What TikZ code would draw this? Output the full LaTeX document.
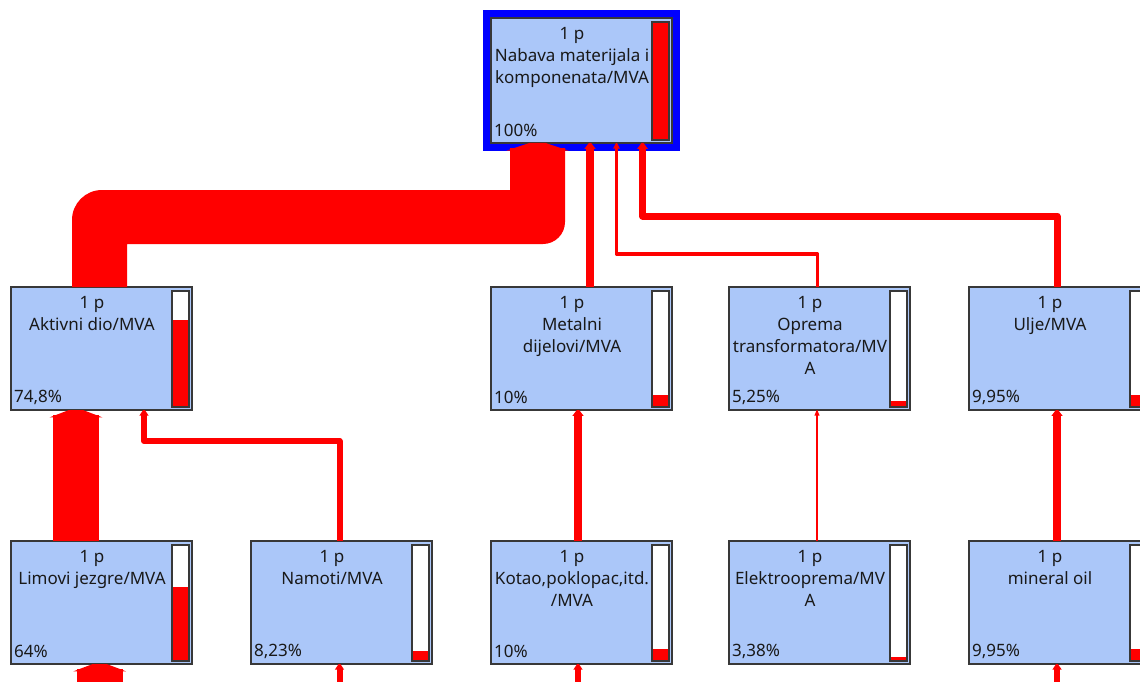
\documentclass[tikz,border=0pt]{standalone}
\usepackage{fontspec}
\setmainfont{Noto Sans}
\usetikzlibrary{calc}
\definecolor{boxblue}{HTML}{ABC7F9}
\definecolor{boxedge}{HTML}{383838}
\tikzset{
  taskbox/.style={draw=boxedge,line width=1.5pt,fill=boxblue,anchor=north west,minimum width=181pt,minimum height=\boxh pt,inner sep=0pt,outer sep=0pt},
  selbox/.style={draw=none,fill=blue,anchor=north west,minimum width=197pt,minimum height=141pt,inner sep=0pt,outer sep=0pt},
  tasklabel/.style={anchor=north,align=center,inner sep=0pt,text=black!90,font=\fontsize{17pt}{22pt}\selectfont},
  taskpct/.style={anchor=west,inner sep=0pt,text=black!90,font=\fontsize{17pt}{22pt}\selectfont},
  flowline/.style={draw=red,line join=round},
}
\newcommand{\boxh}{123}
\newcommand{\task}[6]{% name, x, y, text, percent, fraction
  \node[taskbox] (#1) at (#2,#3) {};
  \node[tasklabel] (#1text) at ($(#1.north west)+(81,9.5)$) {#4};
  \node[taskpct] (#1pct) at ($(#1.south west)+(3,-13)$) {#5};
  \fill[white] ($(#1.north west)+(161,4)$) rectangle ($(#1.south west)+(178,-3)$);
  \fill[red] ($(#1.south west)+(161,-3)$) rectangle ($(#1.south west)+(178,{-3-(\boxh-7)*#6})$);
  \draw[boxedge,line width=1.5pt] ($(#1.north west)+(161,4)$) rectangle ($(#1.south west)+(178,-3)$);
}
\newcommand{\inlet}[2]{% tip point, width
  \pgfmathsetmacro{\hw}{0.54*#2+1.5}
  \pgfmathsetmacro{\hh}{5.5+0.04*#2}
  \pgfmathsetmacro{\fl}{0.15*#2}
  \fill[red] (#1) ++({-\hw},\hh) -- ++({\hw-\fl},-\hh) -- ++({2*\fl},0) -- ++({\hw-\fl},\hh) -- cycle;
}
\newcommand{\straight}[5]{% width, from, dx from, to, dx to
  \coordinate (s) at ($(#2.north west)+(#3,0)$);
  \coordinate (t) at ($(#4.south west)+(#5,0)$);
  \draw[flowline,line width=#1pt] (s) -- ($(t)+(0,5)$);
  \inlet{t}{#1}
}
\newcommand{\elbow}[6]{% width, from, dx from, to, dx to, bus height
  \coordinate (s) at ($(#2.north west)+(#3,0)$);
  \coordinate (t) at ($(#4.south west)+(#5,0)$);
  \coordinate (bus) at (0,#6);
  \draw[flowline,line width=#1pt] (s) -- (s |- bus) -- (t |- bus) -- ($(t)+(0,5)$);
  \inlet{t}{#1}
}
\newcommand{\stub}[4]{% width, free end, to, dx to
  \coordinate (t) at ($(#3.south west)+(#4,0)$);
  \draw[flowline,line width=#1pt] (#2) -- ($(t)+(0,5)$);
  \inlet{t}{#1}
}
\begin{document}
\begin{tikzpicture}[x=1pt,y=-1pt]
\clip (0,0) rectangle (1140,682);
\fill[white] (0,0) rectangle (1140,682);
\node[selbox] (selected) at (483,10) {};
\renewcommand{\boxh}{125}
\task{nabava}{491}{18}{1 p\\Nabava materijala i\\komponenata/MVA}{100\%}{1}
\renewcommand{\boxh}{123}
\task{aktivni}{11}{287}{1 p\\Aktivni dio/MVA}{74,8\%}{0.748}
\task{metalni}{491}{287}{1 p\\Metalni\\dijelovi/MVA}{10\%}{0.10}
\task{oprema}{729}{287}{1 p\\Oprema\\transformatora/MV\\A}{5,25\%}{0.0525}
\task{ulje}{969}{287}{1 p\\Ulje/MVA}{9,95\%}{0.0995}
\task{limovi}{11}{541}{1 p\\Limovi jezgre/MVA}{64\%}{0.64}
\task{namoti}{251}{541}{1 p\\Namoti/MVA}{8,23\%}{0.0823}
\task{kotao}{491}{541}{1 p\\Kotao,poklopac,itd.\\/MVA}{10\%}{0.10}
\task{elektro}{729}{541}{1 p\\Elektrooprema/MV\\A}{3,38\%}{0.0338}
\task{mineral}{969}{541}{1 p\\mineral oil}{9,95\%}{0.0995}
% wide connector: drawn by its outline, its two corners differ in radius
\coordinate (s) at ($(aktivni.north west)+(88.5,0)$);
\coordinate (t) at ($(nabava.south west)+(46.5,0)$);
\fill[red] ($(s)+(-27.5,0)$) [rounded corners=30pt] -- ($(s)+(-27.5,-97)$) [rounded corners=0pt] -- ($(t)+(-27.5,47)$) -- ($(t)+(-27.5,5)$) -- ($(t)+(27.5,5)$) [rounded corners=22pt] -- ($(t)+(27.5,101)$) [rounded corners=0pt] -- ($(s)+(27.5,-43)$) -- ($(s)+(27.5,0)$) -- cycle;
\inlet{t}{55}
\straight{7.5}{metalni}{99}{nabava}{99}
\elbow{3.5}{oprema}{88.5}{nabava}{125.5}{254}
\elbow{7}{ulje}{88}{nabava}{151.5}{216}
\straight{46}{limovi}{65}{aktivni}{65}
\elbow{6}{namoti}{88.5}{aktivni}{133}{441}
\straight{7.5}{kotao}{87}{metalni}{87}
\straight{2}{elektro}{88}{oprema}{88}
\straight{7.5}{mineral}{88}{ulje}{88}
\coordinate (lowA) at (99.7,700);
\coordinate (lowB) at (339.5,700);
\coordinate (lowC) at (578,700);
\coordinate (lowE) at (1057,700);
\stub{46}{lowA}{limovi}{88.7}
\stub{6}{lowB}{namoti}{88.5}
\stub{6}{lowC}{kotao}{87}
\stub{6}{lowE}{mineral}{88}
\end{tikzpicture}
\end{document}
